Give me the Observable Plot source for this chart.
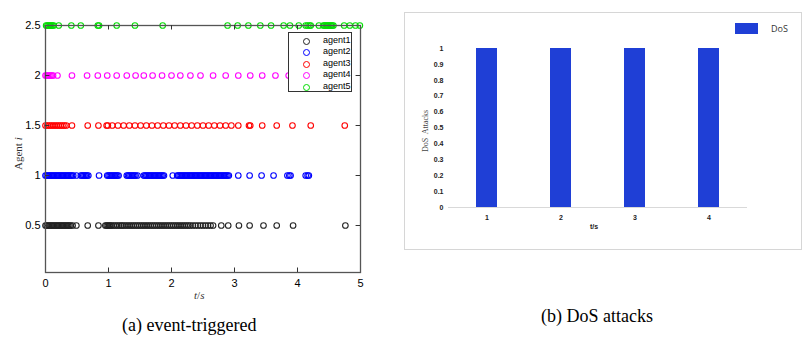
<!DOCTYPE html>
<html><head><meta charset="utf-8">
<script src="https://cdn.jsdelivr.net/npm/d3@7"></script>
<script src="https://cdn.jsdelivr.net/npm/@observablehq/plot@0.6"></script>
<style>
body{margin:0;background:#fff;}
#wrap{position:relative;width:810px;height:344px;overflow:hidden;background:#fff;font-family:"Liberation Sans",Arial,sans-serif;}
.abs{position:absolute;}
svg{overflow:visible;}
</style></head><body>
<div id="wrap"></div>
<script>
// ---- data: panel (a) event-triggered instants (t in s) ----
const agentNames = ["agent1","agent2","agent3","agent4","agent5"];
const agentLevels = [0.5, 1, 1.5, 2, 2.5];
const agentColors = ["#222222","#0000ff","#ff0000","#ff00ff","#00dd00"];
const agent1Times = [0,0.02,0.04,0.06,0.08,0.1,0.12,0.14,0.16,0.18,0.2,0.22,0.24,0.26,0.28,0.3,0.32,0.34,0.36,0.38,0.4,0.43,0.49,0.67,0.84,0.95,0.97,0.99,1.01,1.03,1.05,1.08,1.11,1.14,1.17,1.2,1.22,1.25,1.28,1.31,1.34,1.37,1.4,1.43,1.46,1.49,1.52,1.55,1.58,1.61,1.64,1.67,1.7,1.73,1.76,1.79,1.82,1.85,1.88,1.91,1.94,1.97,2,2.03,2.06,2.09,2.12,2.15,2.18,2.21,2.24,2.27,2.3,2.34,2.38,2.42,2.46,2.5,2.54,2.58,2.62,2.66,2.79,2.9,3.07,3.24,3.46,3.67,3.93,4.76];
const agent2Times = [0,0.02,0.04,0.06,0.08,0.1,0.12,0.14,0.16,0.18,0.2,0.22,0.24,0.26,0.28,0.3,0.32,0.34,0.36,0.38,0.4,0.42,0.44,0.49,0.56,0.58,0.6,0.62,0.64,0.66,0.68,0.85,0.98,1,1.02,1.04,1.06,1.08,1.1,1.12,1.14,1.16,1.29,1.31,1.33,1.35,1.37,1.39,1.41,1.43,1.46,1.56,1.58,1.6,1.62,1.64,1.66,1.68,1.7,1.72,1.74,1.76,1.78,1.8,1.82,1.84,1.86,1.88,2.02,2.09,2.11,2.13,2.15,2.17,2.19,2.21,2.23,2.25,2.27,2.29,2.31,2.33,2.35,2.37,2.39,2.41,2.43,2.45,2.47,2.49,2.51,2.53,2.55,2.57,2.59,2.61,2.63,2.65,2.67,2.69,2.71,2.73,2.75,2.77,2.79,2.81,2.83,2.85,2.87,2.89,2.91,3.06,3.24,3.43,3.62,3.84,3.87,3.89,4.13,4.16,4.18];
const agent3Times = [0,0.03,0.06,0.09,0.12,0.15,0.18,0.21,0.24,0.27,0.3,0.33,0.42,0.67,0.84,0.97,0.99,1.06,1.15,1.24,1.33,1.42,1.51,1.6,1.69,1.78,1.87,1.96,2.05,2.14,2.23,2.32,2.41,2.5,2.59,2.68,2.77,2.86,2.95,3.06,3.23,3.25,3.44,3.67,3.92,4.21,4.75];
const agent4Times = [0,0.02,0.04,0.06,0.08,0.1,0.12,0.19,0.42,0.66,0.83,0.98,1.13,1.29,1.43,1.56,1.7,1.85,2,2.14,2.3,2.46,2.66,2.86,3.06,3.25,3.44,3.65,3.86];
const agent5Times = [0.01,0.03,0.05,0.07,0.09,0.11,0.13,0.21,0.41,0.56,0.83,0.85,1.13,1.42,1.86,2.89,3.05,3.22,3.41,3.58,3.78,3.88,4.02,4.13,4.16,4.19,4.21,4.34,4.41,4.43,4.45,4.47,4.49,4.51,4.53,4.55,4.57,4.74,4.83,4.92,4.99];
const xTicksA = [0,1,2,3,4,5];
const yTicksA = [0.5,1,1.5,2,2.5];

// ---- data: panel (b) DoS attacks ----
const dosTimes = [1,2,3,4];
const dosValues = [1,1,1,1];
const yTicksB = [0,0.1,0.2,0.3,0.4,0.5,0.6,0.7,0.8,0.9,1];
const dosColor = "#1f3fd6";

const wrap = document.getElementById("wrap");
function place(el, left, top){ el.classList.add("abs"); el.style.left=left+"px"; el.style.top=top+"px"; wrap.appendChild(el); return el; }
function text(str, left, top, style){ const d=document.createElement("div"); d.textContent=str; Object.assign(d.style, {whiteSpace:"pre"}, style||{}); return place(d,left,top); }

// ---------- Panel (a) ----------
const allTimes = [agent1Times, agent2Times, agent3Times, agent4Times, agent5Times];
const events = [];
allTimes.forEach((arr,i)=>arr.forEach(t=>events.push({t, y: agentLevels[i], agent: agentNames[i]})));

const yTop = 2.5, yBot = 0.03, xL = 0, xR = 5;
const plotA = Plot.plot({
  width: 370, height: 305,
  marginLeft: 45, marginRight: 10, marginTop: 25, marginBottom: 33,
  x: {domain:[xL,xR]},
  y: {domain:[yBot,yTop]},
  color: {domain: agentNames, range: agentColors},
  style: {fontFamily:"Liberation Sans, Arial, sans-serif", fontSize:"11px", color:"#000", background:"transparent"},
  marks: [
    Plot.dot(events, {x:"t", y:"y", stroke:"agent", r:2.8, strokeWidth:1.1}),
    Plot.frame({stroke:"#555", strokeWidth:1.3}),
    // inward mirror ticks
    Plot.ruleX(xTicksA.slice(1,-1), {x:d=>d, y1:yTop, y2:yTop-0.045, stroke:"#333"}),
    Plot.ruleX(xTicksA.slice(1,-1), {x:d=>d, y1:yBot, y2:yBot+0.045, stroke:"#333"}),
    Plot.ruleY(yTicksA.slice(0,-1), {y:d=>d, x1:xR, x2:xR-0.07, stroke:"#333"}),
    Plot.ruleY(yTicksA.slice(0,-1), {y:d=>d, x1:xL, x2:xL+0.07, stroke:"#333"}),
    Plot.axisX(xTicksA, {tickSize:0, tickPadding:7, label:null, fontSize:11}),
    Plot.axisY(yTicksA, {tickSize:0, tickPadding:5, label:null, fontSize:11, tickFormat:d=>String(d)})
  ]
});
place(plotA, 0, 0);

// axis titles (a)
const ya = text("", 0, 0, {fontFamily:"Liberation Serif, serif", fontSize:"11px", color:"#333", transform:"rotate(-90deg)", transformOrigin:"left top"});
ya.innerHTML = 'Agent <i>i</i>';
ya.style.left = "12px"; ya.style.top = "170px";
const xa = text("", 194, 289, {fontFamily:"Liberation Serif, serif", fontSize:"11px", color:"#333"});
xa.innerHTML = "<i>t</i>/<i>s</i>";

// legend (a)
const lg = document.createElement("div");
Object.assign(lg.style, {width:"64px", height:"60px", border:"1px solid #333", background:"#fff", boxSizing:"border-box"});
place(lg, 288, 32);
agentNames.forEach((n,i)=>{
  const c = document.createElement("span");
  Object.assign(c.style, {position:"absolute", left:"14px", top:(5+i*11.4)+"px", width:"5px", height:"5px", border:"1px solid "+agentColors[i], borderRadius:"50%"});
  const t = document.createElement("span");
  t.textContent = n;
  Object.assign(t.style, {position:"absolute", left:"34px", top:(2+i*11.4)+"px", fontSize:"9px", lineHeight:"11px", fontFamily:"Liberation Sans, Arial, sans-serif", color:"#000"});
  lg.appendChild(c); lg.appendChild(t);
});

// caption (a)
text("(a) event-triggered", 122, 315, {fontFamily:"Liberation Serif, 'Times New Roman', serif", fontSize:"18px", color:"#000"});

// ---------- Panel (b) ----------
const box = document.createElement("div");
Object.assign(box.style, {width:"398px", height:"238px", border:"1px solid #d6d6d6", boxSizing:"border-box"});
place(box, 404, 12);

const dos = dosTimes.map((t,i)=>({t, v: dosValues[i]}));
const plotB = Plot.plot({
  width: 398, height: 237,
  marginLeft: 44, marginRight: 55, marginTop: 36, marginBottom: 42,
  x: {type:"band", domain: dosTimes, paddingInner:0.72, paddingOuter:0.36},
  y: {domain:[0,1]},
  style: {fontFamily:"Liberation Sans, Arial, sans-serif", fontSize:"7px", fontWeight:"bold", color:"#222", background:"transparent"},
  marks: [
    Plot.barY(dos, {x:"t", y:"v", fill: dosColor}),
    Plot.ruleY([0], {stroke:"#d9d9d9", strokeWidth:1.2}),
    Plot.axisX({tickSize:0, tickPadding:8, label:null, fontSize:7, fontWeight:"bold"}),
    Plot.axisY(yTicksB, {tickSize:0, tickPadding:5, label:null, fontSize:7, fontWeight:"bold", tickFormat:d=>(d===0||d===1)?String(d):d.toFixed(1)})
  ]
});
place(plotB, 404, 12);

// axis titles (b)
const yb = text("DoS  Attacks", 0, 0, {fontFamily:"Liberation Serif, serif", fontSize:"8px", color:"#444", transform:"rotate(-90deg)", transformOrigin:"left top"});
yb.style.left = "421px"; yb.style.top = "152px";
text("t/s", 590, 223, {fontFamily:"Liberation Sans, Arial, sans-serif", fontSize:"7px", fontWeight:"bold", color:"#222"});

// legend (b)
const sw = document.createElement("div");
Object.assign(sw.style, {width:"23px", height:"11px", background: dosColor});
place(sw, 735, 23);
text("DoS", 771, 22, {fontFamily:"'Open Sans', Arial, sans-serif", fontSize:"9px", color:"#333"});

// caption (b)
text("(b) DoS attacks", 541, 306, {fontFamily:"Liberation Serif, 'Times New Roman', serif", fontSize:"18px", color:"#000"});
</script>
</body></html>
